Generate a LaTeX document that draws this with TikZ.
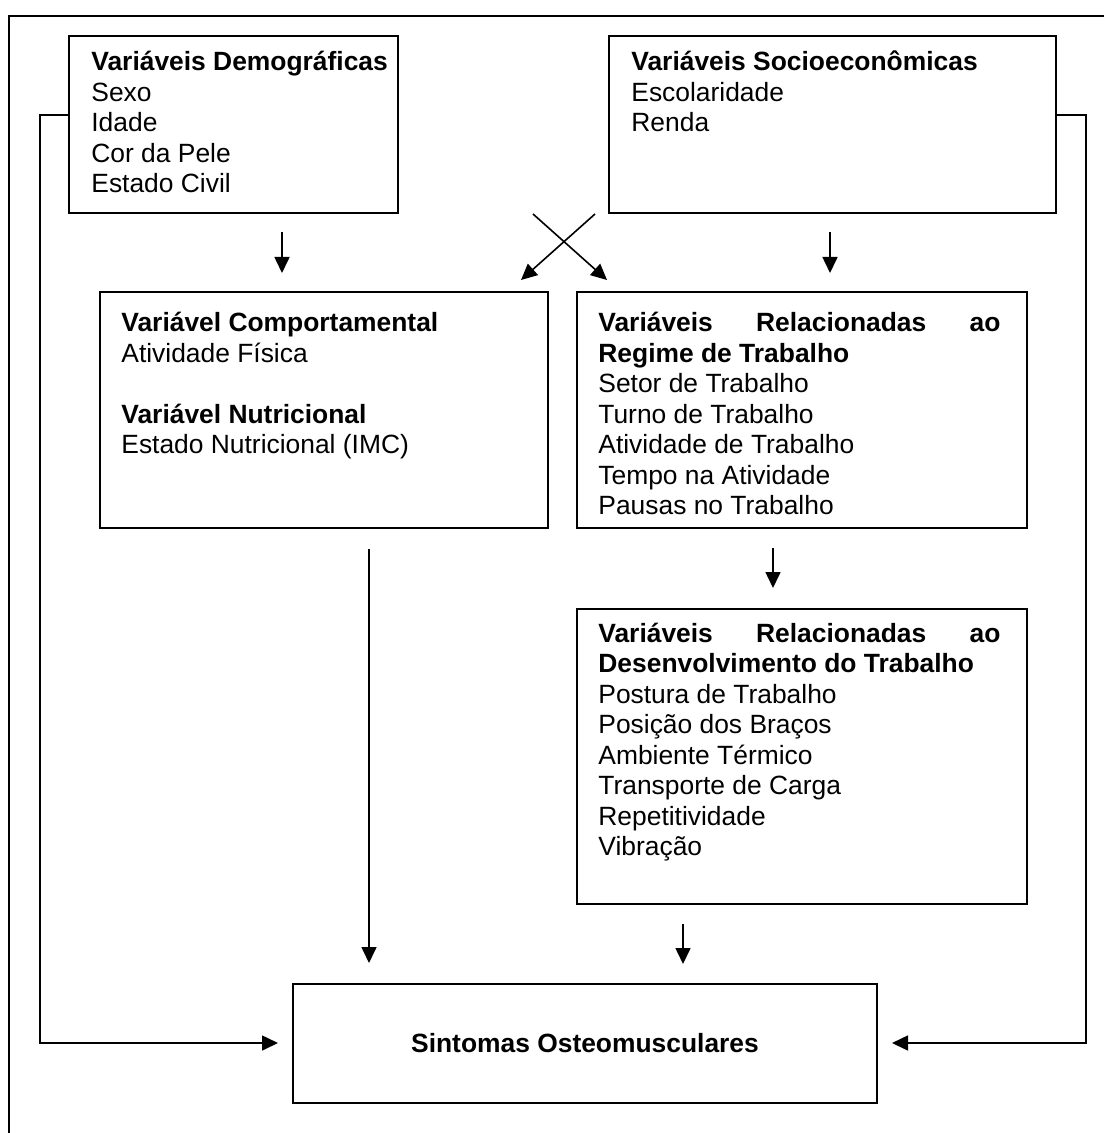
\documentclass[tikz,border=0pt]{standalone}
\usepackage{fontspec}
\setmainfont{Liberation Sans}
\usetikzlibrary{arrows.meta}
\tikzset{
  boxnode/.style={draw, line width=1pt, anchor=north west, inner sep=0pt, outer sep=0pt},
  txt/.style={anchor=base west, inner sep=0pt, font=\fontsize{13.2pt}{15.25pt}\selectfont},
  conn/.style={line width=0.8pt},
  arr/.style={line width=0.8pt, -{Triangle[length=8pt,width=7.5pt]}},
}
\newcommand{\bx}[2]{\parbox[t]{#1}{\raggedright #2}}
\begin{document}
\begin{tikzpicture}[x=0.5pt,y=-0.5pt]
\useasboundingbox (0,0) rectangle (1104,1133);
% outer frame
\draw[line width=0.9pt] (1104,16) -- (9,16) -- (9,1133);
% boxes
\node[boxnode, minimum width=164.5pt, minimum height=88.5pt] (demo) at (69,36) {};
\node[boxnode, minimum width=223.5pt, minimum height=88.5pt] (socio) at (609,36) {};
\node[boxnode, minimum width=224pt, minimum height=118pt] (comp) at (100,292) {};
\node[boxnode, minimum width=225pt, minimum height=118pt] (regime) at (577,292) {};
\node[boxnode, minimum width=225pt, minimum height=147.5pt] (desenv) at (577,609) {};
\node[boxnode, minimum width=292pt, minimum height=59.5pt] (sint) at (293,984) {};
% texts
\node[txt] (demotxt) at (91,71) {\bx{200pt}{\textbf{Variáveis Demográficas}\\Sexo\\Idade\\Cor da Pele\\Estado Civil}};
\node[txt] (sociotxt) at (631,71) {\bx{210pt}{\textbf{Variáveis Socioeconômicas}\\Escolaridade\\Renda}};
\node[txt] (comptxt) at (121,332) {\bx{210pt}{\textbf{Variável Comportamental}\\Atividade Física\\[15.25pt]\textbf{Variável Nutricional}\\Estado Nutricional (IMC)}};
\node[txt] (regimetxt) at (598,332) {\bx{201pt}{\makebox[201pt][s]{\textbf{Variáveis\hfill Relacionadas\hfill ao}}\\\textbf{Regime de Trabalho}\\Setor de Trabalho\\Turno de Trabalho\\Atividade de Trabalho\\Tempo na Atividade\\Pausas no Trabalho}};
\node[txt] (desenvtxt) at (598,642) {\bx{201pt}{\makebox[201pt][s]{\textbf{Variáveis\hfill Relacionadas\hfill ao}}\\\textbf{Desenvolvimento do Trabalho}\\Postura de Trabalho\\Posição dos Braços\\Ambiente Térmico\\Transporte de Carga\\Repetitividade\\Vibração}};
\node[txt, anchor=base] (sinttxt) at (585,1052) {\textbf{Sintomas Osteomusculares}};
% connector endpoints
\coordinate (demoL) at (69,115);
\coordinate (socioR) at (1056,115);
\coordinate (sintL) at (278,1043);
\coordinate (sintR) at (892,1043);
\coordinate (a1s) at (282,232); \coordinate (a1e) at (282,273);
\coordinate (a2s) at (830,232); \coordinate (a2e) at (830,273);
\coordinate (x1s) at (533,214); \coordinate (x1e) at (607,280);
\coordinate (x2s) at (595,214); \coordinate (x2e) at (521,280);
\coordinate (a3s) at (369,549); \coordinate (a3e) at (369,963);
\coordinate (a4s) at (773,548); \coordinate (a4e) at (773,588);
\coordinate (a5s) at (683,924); \coordinate (a5e) at (683,964);
% connectors
\draw[arr] (demoL) -- (40,115) -- (40,1043) -- (sintL);
\draw[arr] (socioR) -- (1086,115) -- (1086,1043) -- (sintR);
\draw[arr] (a1s) -- (a1e);
\draw[arr] (a2s) -- (a2e);
\draw[arr] (x1s) -- (x1e);
\draw[arr] (x2s) -- (x2e);
\draw[arr] (a3s) -- (a3e);
\draw[arr] (a4s) -- (a4e);
\draw[arr] (a5s) -- (a5e);
\end{tikzpicture}
\end{document}
